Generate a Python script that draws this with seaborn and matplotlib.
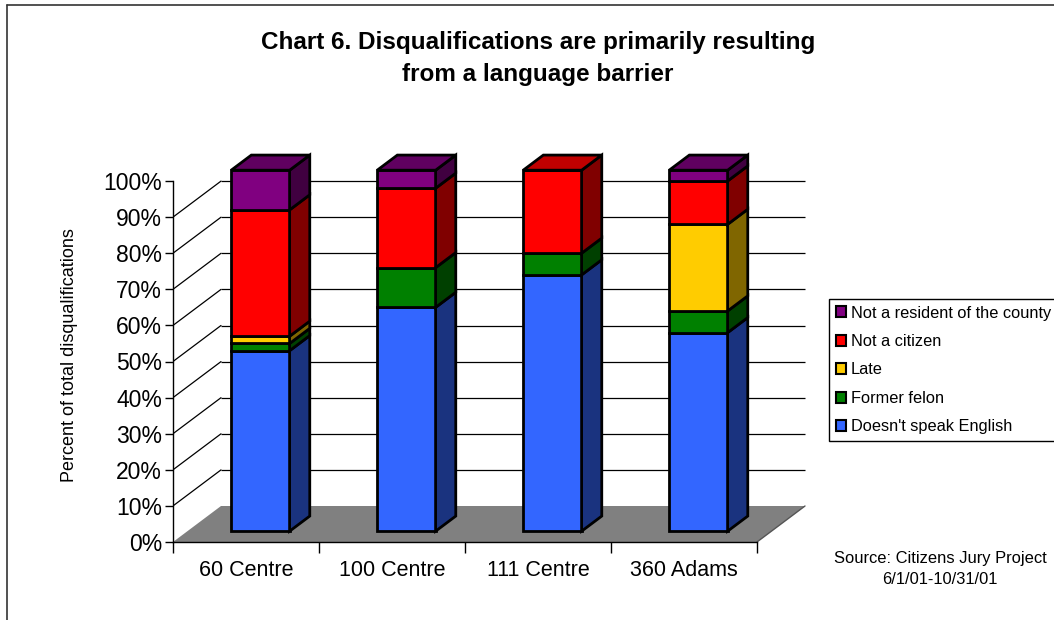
import numpy as np
import pandas as pd
import matplotlib
matplotlib.use("Agg")
import matplotlib.pyplot as plt
import matplotlib.transforms as mtransforms
from matplotlib.patches import Polygon, Patch
from matplotlib.lines import Line2D
import seaborn as sns

# ---- data -------------------------------------------------------------
categories = ["60 Centre", "100 Centre", "111 Centre", "360 Adams"]
series_names = ["Doesn't speak English", "Former felon", "Late",
                "Not a citizen", "Not a resident of the county"]
doesnt_speak_english = [50, 62, 71, 55]
former_felon = [2, 11, 6, 6]
late = [2, 0, 0, 24]
not_a_citizen = [35, 22, 23, 12]
not_a_resident = [11, 5, 0, 3]
y_tick_values = list(range(0, 101, 10))

series_values = [doesnt_speak_english, former_felon, late,
                 not_a_citizen, not_a_resident]
front_colors = ["#3366FF", "#008000", "#FFCC00", "#FF0000", "#800080"]
side_colors = ["#1A337F", "#004000", "#806600", "#800000", "#400040"]
top_colors = ["#264CBF", "#006000", "#BF9900", "#C00000", "#600060"]

# ---- theme ------------------------------------------------------------
sns.set_theme(style="ticks")
plt.rcParams["font.family"] = ["Liberation Sans", "DejaVu Sans"]
plt.rcParams["text.color"] = "black"
plt.rcParams["axes.edgecolor"] = "black"
plt.rcParams["xtick.color"] = "black"
plt.rcParams["ytick.color"] = "black"

W, H = 1054, 620
fig = plt.figure(figsize=(W / 100, H / 100), dpi=100)
fig.patch.set_facecolor("white")

# axes box in pixels; the data plane is the front edge of the floor
ax_l, ax_r, ax_b, ax_t = 173, 823, 542, 130
ax = fig.add_axes([ax_l / W, 1 - ax_b / H, (ax_r - ax_l) / W, (ax_b - ax_t) / H])
ax.set_facecolor("none")

px_x = (757 - 173) / 4.0      # pixels per category
px_y = (542 - 181) / 100.0    # pixels per percent
x_min, x_end = -0.5, len(categories) - 0.5
x_max = x_min + (ax_r - ax_l) / px_x
y_max = (ax_b - ax_t) / px_y

# oblique depth of the floor and the boxes
DX, DY = 48 / px_x, 36 / px_y
bar_front, bar_depth = 0.30, 0.42
fx, fy = bar_front * DX, bar_front * DY
bx, by = bar_depth * DX, bar_depth * DY
bar_width = 0.40
edge_lw = 2.0

# ---- floor, back-wall gridlines, side-wall lines ------------------------
floor = Polygon([(x_min, 0), (x_end, 0), (x_end + DX, DY), (x_min + DX, DY)],
                closed=True, facecolor="#808080", edgecolor="none", zorder=0)
ax.add_patch(floor)
ax.plot([x_end, x_end + DX], [0, DY], color="#555555", lw=1.0, zorder=0.5)
for v in y_tick_values[1:-1]:
    ax.plot([x_min + DX, x_end + DX], [v + DY, v + DY], color="black",
            lw=0.9, zorder=0.5, solid_capstyle="butt")
    ax.plot([x_min, x_min + DX], [v, v + DY], color="black", lw=0.9, zorder=0.5)

# ---- stacked boxes ------------------------------------------------------
depth_shift = mtransforms.Affine2D().translate(fx, fy) + ax.transData
bottoms = np.zeros(len(categories))
layer_patches = []
for name, vals, fc in zip(series_names, series_values, front_colors):
    df = pd.DataFrame({"category": categories, "value": vals})
    n0 = len(ax.patches)
    sns.barplot(data=df, x="category", y="value", order=categories,
                color=fc, saturation=1, width=bar_width, errorbar=None,
                bottom=bottoms.copy(), edgecolor="black", linewidth=edge_lw,
                transform=depth_shift, zorder=3, ax=ax)
    layer_patches.append(ax.patches[n0:])
    bottoms = bottoms + np.asarray(vals, dtype=float)

# side faces of each segment
for patches, sc in zip(layer_patches, side_colors):
    for p in patches:
        h = p.get_height()
        if h <= 0:
            continue
        x1 = p.get_x() + p.get_width() + fx
        y0 = p.get_y() + fy
        y1 = y0 + h
        ax.add_patch(Polygon([(x1, y0), (x1 + bx, y0 + by), (x1 + bx, y1 + by), (x1, y1)],
                             closed=True, facecolor=sc, edgecolor="black",
                             lw=edge_lw, joinstyle="miter", zorder=3))

# top face takes the colour of the highest non-empty segment
for i in range(len(categories)):
    top_layer = max(k for k, vals in enumerate(series_values) if vals[i] > 0)
    p = layer_patches[top_layer][i]
    xl = p.get_x() + fx
    xr = xl + p.get_width()
    yt = p.get_y() + p.get_height() + fy
    ax.add_patch(Polygon([(xl, yt), (xl + bx, yt + by), (xr + bx, yt + by), (xr, yt)],
                         closed=True, facecolor=top_colors[top_layer],
                         edgecolor="black", lw=edge_lw, joinstyle="miter", zorder=3))

# ---- axes ---------------------------------------------------------------
ax.set_xlim(x_min, x_max)
ax.set_ylim(0, y_max)
sns.despine(ax=ax, top=True, right=True)
ax.spines["left"].set_bounds(0, 100)
ax.spines["bottom"].set_bounds(x_min, x_end)
for s in ("left", "bottom"):
    ax.spines[s].set_linewidth(1.0)
    ax.spines[s].set_color("black")

ax.set_yticks(y_tick_values, labels=[f"{v}%" for v in y_tick_values])
ax.tick_params(axis="y", which="major", left=True, length=6, width=1,
               direction="out", labelsize=16.5, pad=2)

ax.set_xticks(np.arange(len(categories) + 1) + x_min, labels=[""] * (len(categories) + 1))
ax.set_xticks(np.arange(len(categories)), labels=categories, minor=True)
ax.tick_params(axis="x", which="major", bottom=True, length=8, width=1, direction="out")
ax.tick_params(axis="x", which="minor", bottom=True, length=0, labelsize=15.5, pad=13)
ax.set_xlabel("")
ax.set_ylabel("")
ax.grid(False)

fig.text(70 / W, 1 - 355 / H, "Percent of total disqualifications", rotation=90,
         ha="center", va="center", fontsize=13)

# ---- title & source -----------------------------------------------------
fig.text(538 / W, 1 - 42 / H, "Chart 6. Disqualifications are primarily resulting",
         ha="center", va="center", fontsize=17.5, fontweight="bold")
fig.text(538 / W, 1 - 74 / H, "from a language barrier",
         ha="center", va="center", fontsize=17.5, fontweight="bold")
fig.text(940 / W, 1 - 558 / H, "Source: Citizens Jury Project",
         ha="center", va="center", fontsize=11.9)
fig.text(940 / W, 1 - 580 / H, "6/1/01-10/31/01",
         ha="center", va="center", fontsize=11.9)

# ---- legend -------------------------------------------------------------
handles = [Patch(facecolor=c, edgecolor="black", lw=1.5) for c in front_colors][::-1]
leg = fig.legend(handles, series_names[::-1], loc="upper left",
                 bbox_to_anchor=(829 / W, 1 - 299 / H), borderaxespad=0,
                 frameon=True, fancybox=False, framealpha=1, edgecolor="black",
                 fontsize=11.8, handlelength=0.65, handleheight=0.65,
                 handletextpad=0.3, labelspacing=0.82, borderpad=0.4)
leg.get_frame().set_linewidth(1.0)

# ---- outer frame ----------------------------------------------------------
fig.add_artist(Line2D([7 / W, 7 / W], [0, 1 - 5 / H], transform=fig.transFigure,
                      color="#333333", lw=1.2))
fig.add_artist(Line2D([7 / W, 1], [1 - 5 / H, 1 - 5 / H], transform=fig.transFigure,
                      color="#333333", lw=1.2))

fig.savefig("out.png", dpi=100)
